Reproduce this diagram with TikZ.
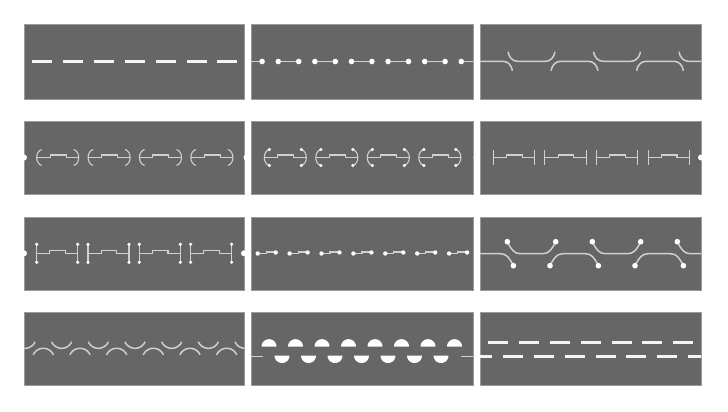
\documentclass[tikz,border=0pt]{standalone}
\definecolor{panelgray}{HTML}{666666}
\definecolor{edgegray}{HTML}{9A9A9A}
\definecolor{linegray}{HTML}{D0D0D0}
\definecolor{dashwhite}{HTML}{F4F4F4}
\tikzset{
  panel/.style={fill=panelgray, draw=edgegray, line width=0.6pt},
  dashseg/.style={draw=dashwhite, line width=3pt},
  thinw/.style={draw=linegray, line width=1.2pt},
  curvew/.style={draw=linegray, line width=1.5pt},
  motifw/.style={draw=linegray, line width=1.1pt},
  dotw/.style={fill=white},
}
\newcommand\mystepline[3]{%
  \draw[motifw] (#1,#2) -- ({#1+0.32*#3},#2) -- ({#1+0.32*#3},{#2-2.5}) -- ({#1+0.70*#3},{#2-2.5}) -- ({#1+0.70*#3},#2) -- ({#1+#3},#2);}
\newcommand\myparens[3]{%
  \draw[motifw] ({#1+5},{#2-8}) .. controls ({#1-1.7},{#2-6}) and ({#1-1.7},{#2+6}) .. ({#1+5},{#2+8});
  \draw[motifw] ({#1+#3-5},{#2-8}) .. controls ({#1+#3+1.7},{#2-6}) and ({#1+#3+1.7},{#2+6}) .. ({#1+#3-5},{#2+8});}
\begin{document}
\begin{tikzpicture}[x=1pt,y=-1pt]
\fill[white] (0,0) rectangle (728,412);
\useasboundingbox (0,0) rectangle (728,412);
% panels
\foreach \ya/\yb in {24/99,121/194,217/290,312/385} {
  \foreach \xa/\xb in {24/244,251/473,480/701} {
    \draw[panel] (\xa,\ya) rectangle (\xb,\yb);
  }
}
% ---------- row 1 ----------
\foreach \k in {0,...,6} \draw[dashseg] ({32+30.9*\k},61.5) -- ++(20,0);
\begin{scope}
  \clip (251,24) rectangle (473,99);
  \foreach \k in {0,...,6} {
    \pgfmathsetmacro\xl{241.7+36.6*\k}
    \pgfmathsetmacro\xr{\xl+20.4}
    \draw[thinw] (\xl,61.5) -- (\xr,61.5);
    \fill[dotw] (\xl,61.5) circle[radius=2.8];
    \fill[dotw] (\xr,61.5) circle[radius=2.8];
  }
\end{scope}
\begin{scope}
  \clip (480,24) rectangle (701,99);
  \foreach \x in {422.5,508,593.5,679}
    \draw[curvew] (\x,51.8) .. controls ({\x+1},57.3) and ({\x+4.5},61.3) .. ({\x+9.5},61.3) -- ({\x+37.5},61.3) .. controls ({\x+42.5},61.3) and ({\x+46},57.3) .. ({\x+47},51.8);
  \foreach \x in {465.5,551,636.5,722}
    \draw[curvew] (\x,70.8) .. controls ({\x+1},65.3) and ({\x+4.5},61.3) .. ({\x+9.5},61.3) -- ({\x+37.5},61.3) .. controls ({\x+42.5},61.3) and ({\x+46},65.3) .. ({\x+47},70.8);
\end{scope}
% ---------- row 2 ----------
\foreach \k in {0,...,3} {
  \pgfmathsetmacro\xo{36.7+51.4*\k}
  \myparens{\xo}{157.5}{42}
  \mystepline{\xo}{157.5}{42}
}
\foreach \k in {0,...,3} {
  \pgfmathsetmacro\xo{264.3+51.5*\k}
  \myparens{\xo}{157.5}{42}
  \mystepline{\xo}{157.5}{42}
  \foreach \dx in {5,37} {
    \fill[dotw] ({\xo+\dx},149.5) circle[radius=1.7];
    \fill[dotw] ({\xo+\dx},165.5) circle[radius=1.7];
  }
}
\foreach \k in {0,...,3} {
  \pgfmathsetmacro\xo{493.3+51.6*\k}
  \draw[motifw] (\xo,150) -- (\xo,165);
  \draw[motifw] ({\xo+41.3},150) -- ({\xo+41.3},165);
  \mystepline{\xo}{157.5}{41.3}
}
\foreach \x in {24,246.5,476.5,701} \fill[dotw] (\x,157.5) circle[radius=3];
% ---------- row 3 ----------
\foreach \k in {0,...,3} {
  \pgfmathsetmacro\xo{36.7+51.3*\k}
  \foreach \dx in {0,41} {
    \draw[motifw] ({\xo+\dx},244.3) -- ({\xo+\dx},262.3);
    \fill[dotw] ({\xo+\dx},244.3) circle[radius=1.8];
    \fill[dotw] ({\xo+\dx},262.3) circle[radius=1.8];
  }
  \mystepline{\xo}{253.3}{41}
}
\foreach \x in {24,244} \fill[dotw] (\x,253.3) circle[radius=3];
\foreach \k in {0,...,6} {
  \pgfmathsetmacro\xo{257.7+31.9*\k}
  \draw[thinw] (\xo,253.5) -- ({\xo+8.5},253.5) -- ({\xo+8.5},252) -- ({\xo+18},252);
  \fill[dotw] (\xo,253.5) circle[radius=2.2];
  \fill[dotw] ({\xo+18},252.5) circle[radius=2.2];
}
\begin{scope}
  \clip (480,217) rectangle (701,290);
  \foreach \x in {422.3,507.3,592.3,677.3} {
    \draw[curvew] (\x,241.7) .. controls ({\x+4},249.7) and ({\x+7},253.7) .. ({\x+13},253.7) -- ({\x+35.4},253.7) .. controls ({\x+41.4},253.7) and ({\x+44.4},249.7) .. ({\x+48.4},241.7);
    \fill[dotw] (\x,241.7) circle[radius=2.8];
    \fill[dotw] ({\x+48.4},241.7) circle[radius=2.8];
  }
  \foreach \x in {465,550,635,720} {
    \draw[curvew] (\x,265.7) .. controls ({\x+4},257.7) and ({\x+7},253.7) .. ({\x+13},253.7) -- ({\x+35.4},253.7) .. controls ({\x+41.4},253.7) and ({\x+44.4},257.7) .. ({\x+48.4},265.7);
    \fill[dotw] (\x,265.7) circle[radius=2.8];
    \fill[dotw] ({\x+48.4},265.7) circle[radius=2.8];
  }
\end{scope}
% ---------- row 4 ----------
\begin{scope}
  \clip (24,312) rectangle (244,385);
  \foreach \k in {0,...,6} {
    \pgfmathsetmacro\cx{25+36.67*\k}
    \draw[curvew] plot[domain=-66:66, samples=25] ({\cx+11*sin(\x)}, {337.3+11*cos(\x)});
  }
  \foreach \k in {0,...,5} {
    \pgfmathsetmacro\cx{43.33+36.67*\k}
    \draw[curvew] plot[domain=-66:66, samples=25] ({\cx+11*sin(\x)}, {359.3-11*cos(\x)});
  }
\end{scope}
\foreach \k in {0,...,7} {
  \pgfmathsetmacro\cx{269+26.5*\k}
  \fill[white] plot[domain=0:180, samples=25] ({\cx+7.5*cos(\x)}, {346.7-7.5*sin(\x)}) -- cycle;
}
\foreach \k in {0,...,6} {
  \pgfmathsetmacro\cx{282+26.5*\k}
  \fill[white] plot[domain=0:180, samples=25] ({\cx+7.5*cos(\x)}, {355.5+7.5*sin(\x)}) -- cycle;
}
\draw[thinw] (251,356.5) -- (263,356.5);
\draw[thinw] (460.7,356.5) -- (473,356.5);
\foreach \k in {0,...,6} \draw[dashseg] ({488.3+30.83*\k},342.3) -- ++(20,0);
\begin{scope}
  \clip (480,312) rectangle (701,385);
  \foreach \k in {0,...,7} \draw[dashseg] ({472.3+30.83*\k},356.7) -- ++(20,0);
\end{scope}
\end{tikzpicture}
\end{document}
